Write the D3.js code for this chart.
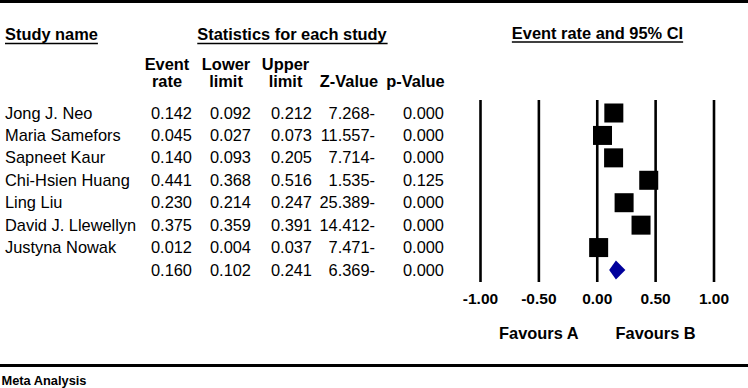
<!DOCTYPE html>
<html>
<head>
<meta charset="utf-8">
<script src="https://cdn.jsdelivr.net/npm/d3@7"></script>
<style>
html,body{margin:0;padding:0;background:#fff;}
svg{display:block;}
text{font-family:"Liberation Sans",Arial,Helvetica,sans-serif;fill:#000;}
</style>
</head>
<body>
<svg id="chart" width="748" height="388"></svg>
<script>
const studies = ["Jong J. Neo","Maria Samefors","Sapneet Kaur","Chi-Hsien Huang","Ling Liu","David J. Llewellyn","Justyna Nowak"];
const eventRate = [0.142,0.045,0.140,0.441,0.230,0.375,0.012];
const lowerLimit = [0.092,0.027,0.093,0.368,0.214,0.359,0.004];
const upperLimit = [0.212,0.073,0.205,0.516,0.247,0.391,0.037];
const zValue = [7.268,11.557,7.714,1.535,25.389,14.412,7.471];
const pValue = [0.000,0.000,0.000,0.125,0.000,0.000,0.000];
const summary = {name:"", rate:0.160, lower:0.102, upper:0.241, z:6.369, p:0.000};
const axisTicks = [-1.00,-0.50,0.00,0.50,1.00];
const favourLabels = ["Favours A","Favours B"];
const colHeaders = [["Event","rate"],["Lower","limit"],["Upper","limit"],["","Z-Value"],["","p-Value"]];

const svg = d3.select("#chart");
const loc = d3.formatLocale({decimal:".", thousands:",", grouping:[3], currency:["",""], minus:"-"});
const f3 = loc.format(".3f");
const f2 = loc.format(".2f");
const FS = 16.4;

const rows = studies.map((s,i)=>({name:s, rate:eventRate[i], lower:lowerLimit[i], upper:upperLimit[i], z:zValue[i], p:pValue[i], summary:false}));
rows.push(Object.assign({summary:true}, summary));

const x = d3.scaleLinear().domain([-1,1]).range([480.5,714]);
const y = d3.scalePoint().domain(d3.range(rows.length)).range([118.5,275.5]);

// top and bottom rules
svg.append("rect").attr("x",0).attr("y",0).attr("width",748).attr("height",3).attr("fill","#000");
svg.append("rect").attr("x",0).attr("y",364).attr("width",748).attr("height",3).attr("fill","#000");

function underlined(txt, xPos, yPos, anchor){
  const t = svg.append("text").attr("x",xPos).attr("y",yPos).attr("text-anchor",anchor)
    .attr("font-size",FS).attr("font-weight","bold").text(txt);
  const b = t.node().getBBox();
  svg.append("line").attr("x1",b.x).attr("x2",b.x+b.width).attr("y1",yPos+3.5).attr("y2",yPos+3.5)
    .attr("stroke","#000").attr("stroke-width",1.6);
}
underlined("Study name",5,40,"start");
underlined("Statistics for each study",292,40,"middle");
underlined("Event rate and 95% CI",597.5,38.5,"middle");

// column headers
const colRight = [192,251,312,375,444];
const colCenter = [167,226,285.5,349,415.5];
colHeaders.forEach((h,i)=>{
  svg.append("text").attr("x",colCenter[i]).attr("y",70).attr("text-anchor","middle")
    .attr("font-size",FS).attr("font-weight","bold").text(h[0]);
  svg.append("text").attr("x",colCenter[i]).attr("y",87).attr("text-anchor","middle")
    .attr("font-size",FS).attr("font-weight","bold").text(h[1]);
});

// table rows
const g = svg.append("g");
rows.forEach((r,i)=>{
  const yy = y(i);
  g.append("text").attr("x",5).attr("y",yy).attr("font-size",FS).text(r.name);
  const vals = [f3(r.rate), f3(r.lower), f3(r.upper), f3(r.z)+"-", f3(r.p)];
  vals.forEach((v,j)=>{
    g.append("text").attr("x",colRight[j]).attr("y",yy).attr("text-anchor","end").attr("font-size",FS).text(v);
  });
});

// vertical reference lines
svg.append("g").selectAll("line").data(axisTicks).join("line")
  .attr("x1",d=>x(d)).attr("x2",d=>x(d)).attr("y1",100).attr("y2",282)
  .attr("stroke","#000").attr("stroke-width",2.6);

// tick labels
svg.append("g").selectAll("text").data(axisTicks).join("text")
  .attr("x",d=>x(d)).attr("y",303.5).attr("text-anchor","middle")
  .attr("font-size",15.5).attr("font-weight","bold")
  .text(d=>f2(d));

// favours labels
svg.append("text").attr("x",(x(-1)+x(0))/2).attr("y",338.5).attr("text-anchor","middle")
  .attr("font-size",FS).attr("font-weight","bold").text(favourLabels[0]);
svg.append("text").attr("x",(x(0)+x(1))/2).attr("y",338.5).attr("text-anchor","middle")
  .attr("font-size",FS).attr("font-weight","bold").text(favourLabels[1]);

// CI lines and squares
const studyRows = rows.filter(r=>!r.summary);
const sq = 19;
svg.append("g").selectAll("line").data(studyRows).join("line")
  .attr("x1",d=>x(d.lower)).attr("x2",d=>x(d.upper))
  .attr("y1",(d,i)=>y(i)-5.5).attr("y2",(d,i)=>y(i)-5.5)
  .attr("stroke","#000").attr("stroke-width",1.5);
svg.append("g").selectAll("rect").data(studyRows).join("rect")
  .attr("x",d=>x(d.rate)-sq/2).attr("y",(d,i)=>y(i)-5.5-sq/2)
  .attr("width",sq).attr("height",sq).attr("fill","#000");

// summary diamond
const si = rows.length-1;
const cy = y(si)-5.5;
const s = rows[si];
svg.append("path")
  .attr("d",`M${x(s.lower)},${cy}L${x(s.rate)},${cy-9.5}L${x(s.upper)},${cy}L${x(s.rate)},${cy+9.5}Z`)
  .attr("fill","#00009c");

// footer
svg.append("text").attr("x",1.5).attr("y",384.5).attr("font-size",12.5).attr("font-weight","bold")
  .attr("textLength",85).attr("lengthAdjust","spacingAndGlyphs").text("Meta Analysis");
</script>
</body>
</html>
